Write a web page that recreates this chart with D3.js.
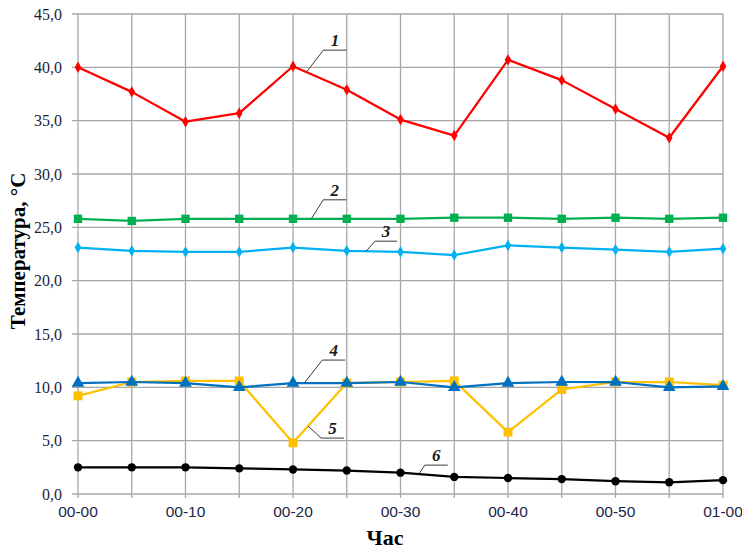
<!DOCTYPE html>
<html>
<head>
<meta charset="utf-8">
<script src="https://cdn.jsdelivr.net/npm/d3@7/dist/d3.min.js"></script>
<style>
  html, body { margin: 0; padding: 0; background: #fff; }
  svg { display: block; }
</style>
</head>
<body>
<svg id="chart" width="742" height="551"></svg>
<script>
// Time of measurement (every 5 minutes)
const times = ["00-00","00-05","00-10","00-15","00-20","00-25","00-30",
               "00-35","00-40","00-45","00-50","00-55","01-00"];
const timeLabels = ["00-00","00-10","00-20","00-30","00-40","00-50","01-00"];
const yTicks = [0, 5, 10, 15, 20, 25, 30, 35, 40, 45];

// Temperature series, °C
const series1 = [40.0, 37.7, 34.9, 35.7, 40.1, 37.9, 35.1, 33.6, 40.7, 38.8, 36.1, 33.4, 40.1];
const series2 = [25.8, 25.6, 25.8, 25.8, 25.8, 25.8, 25.8, 25.9, 25.9, 25.8, 25.9, 25.8, 25.9];
const series3 = [23.1, 22.8, 22.7, 22.7, 23.1, 22.8, 22.7, 22.4, 23.3, 23.1, 22.9, 22.7, 23.0];
const series4 = [10.4, 10.5, 10.4, 10.0, 10.4, 10.4, 10.5, 10.0, 10.4, 10.5, 10.5, 10.0, 10.1];
const series5 = [9.2, 10.5, 10.6, 10.6, 4.8, 10.4, 10.5, 10.6, 5.8, 9.8, 10.5, 10.5, 10.2];
const series6 = [2.5, 2.5, 2.5, 2.4, 2.3, 2.2, 2.0, 1.6, 1.5, 1.4, 1.2, 1.1, 1.3];

const seriesNames = ["1", "2", "3", "4", "5", "6"];
const seriesData = [series1, series2, series3, series4, series5, series6];
const seriesColors = ["#ff0000", "#00b050", "#00b0f0", "#0070c0", "#ffc000", "#000000"];
const seriesSymbols = [d3.symbolDiamond, d3.symbolSquare, d3.symbolDiamond,
                       d3.symbolTriangle, d3.symbolSquare, d3.symbolCircle];
const symbolSizes = [38, 70, 38, 70, 80, 55];
// Painting order: series 4 sits above series 5
const drawOrder = [0, 1, 2, 4, 3, 5];

// Numbered callouts: which series, which segment, position along it,
// elbow offset and length of the horizontal shelf
const callouts = [
  { s: 0, seg: 4, t: 0.25, dx: 17, dy: -22, len: 23, ty: -4 },
  { s: 1, seg: 4, t: 0.34, dx: 12, dy: -19, len: 23, ty: -4 },
  { s: 2, seg: 5, t: 0.36, dx: 9,  dy: -10, len: 22, ty: -4 },
  { s: 3, seg: 4, t: 0.21, dx: 18, dy: -23, len: 23, ty: -4 },
  { s: 4, seg: 4, t: 0.28, dx: 13, dy: 12,  len: 23, ty: -4 },
  { s: 5, seg: 6, t: 0.34, dx: 6,  dy: -9,  len: 23, ty: -4 }
];

const svg = d3.select("#chart");
const margin = { left: 78, right: 19, top: 14, bottom: 57 };
const W = 742, H = 551;

const x = d3.scalePoint().domain(times).range([margin.left, W - margin.right]);
const y = d3.scaleLinear().domain([0, 45]).range([H - margin.bottom, margin.top]);

const gridColor = "#a6a6a6";

// Horizontal grid with short ticks to the left
svg.append("g")
  .selectAll("line")
  .data(yTicks)
  .join("line")
  .attr("x1", margin.left - 6)
  .attr("x2", W - margin.right)
  .attr("y1", d => y(d))
  .attr("y2", d => y(d))
  .attr("stroke", gridColor)
  .attr("stroke-width", 1.3);

// Vertical grid
svg.append("g")
  .selectAll("line")
  .data(times)
  .join("line")
  .attr("x1", d => x(d))
  .attr("x2", d => x(d))
  .attr("y1", y(45))
  .attr("y2", y(0) + 4)
  .attr("stroke", gridColor)
  .attr("stroke-width", 1.3);

// Y tick labels
svg.append("g")
  .selectAll("text")
  .data(yTicks)
  .join("text")
  .attr("x", margin.left - 16)
  .attr("y", d => y(d))
  .attr("dy", "0.35em")
  .attr("text-anchor", "end")
  .attr("font-family", "'Liberation Serif', 'Times New Roman', serif")
  .attr("font-size", 16)
  .attr("fill", "#1d1f3a")
  .text(d => d.toFixed(1).replace(".", ","));

// X tick labels
svg.append("g")
  .selectAll("text")
  .data(timeLabels)
  .join("text")
  .attr("x", d => x(d))
  .attr("y", y(0) + 23)
  .attr("text-anchor", "middle")
  .attr("font-family", "'Liberation Sans', Arial, sans-serif")
  .attr("font-size", 15.5)
  .attr("fill", "#1d2548")
  .text(d => d);

// Axis titles
svg.append("text")
  .attr("transform", `translate(25, 251) rotate(-90)`)
  .attr("text-anchor", "middle")
  .attr("font-family", "'Liberation Serif', 'Times New Roman', serif")
  .attr("font-weight", "bold")
  .attr("font-size", 21)
  .attr("fill", "#000")
  .text("Температура, °C");

svg.append("text")
  .attr("x", 385)
  .attr("y", 545)
  .attr("text-anchor", "middle")
  .attr("font-family", "'Liberation Serif', 'Times New Roman', serif")
  .attr("font-weight", "bold")
  .attr("font-size", 22)
  .attr("fill", "#000")
  .text("Час");

// Lines and markers
const line = d3.line().x((d, i) => x(times[i])).y(d => y(d));

drawOrder.forEach(k => {
  const vals = seriesData[k];
  const g = svg.append("g");
  g.append("path")
    .datum(vals)
    .attr("d", line)
    .attr("fill", "none")
    .attr("stroke", seriesColors[k])
    .attr("stroke-width", 2.25)
    .attr("stroke-linejoin", "round");
  const sym = d3.symbol().type(seriesSymbols[k]).size(symbolSizes[k]);
  g.selectAll("path.m")
    .data(vals)
    .join("path")
    .attr("class", "m")
    .attr("transform", (d, i) => `translate(${x(times[i])},${y(d)})`)
    .attr("d", sym)
    .attr("fill", seriesColors[k]);
});

// Callouts
const cg = svg.append("g");
callouts.forEach(c => {
  const vals = seriesData[c.s];
  const x0 = x(times[c.seg]), x1 = x(times[c.seg + 1]);
  const y0 = y(vals[c.seg]), y1 = y(vals[c.seg + 1]);
  const ax = x0 + (x1 - x0) * c.t, ay = y0 + (y1 - y0) * c.t;
  const ex = ax + c.dx, ey = ay + c.dy;
  cg.append("polyline")
    .attr("points", `${ax},${ay} ${ex},${ey} ${ex + c.len},${ey}`)
    .attr("fill", "none")
    .attr("stroke", "#3a3a3a")
    .attr("stroke-width", 1);
  cg.append("text")
    .attr("x", ex + c.len / 2)
    .attr("y", ey + c.ty)
    .attr("text-anchor", "middle")
    .attr("font-family", "'Liberation Serif', 'Times New Roman', serif")
    .attr("font-style", "italic")
    .attr("font-weight", "bold")
    .attr("font-size", 17)
    .attr("fill", "#1a1a1a")
    .text(seriesNames[c.s]);
});
</script>
</body>
</html>
